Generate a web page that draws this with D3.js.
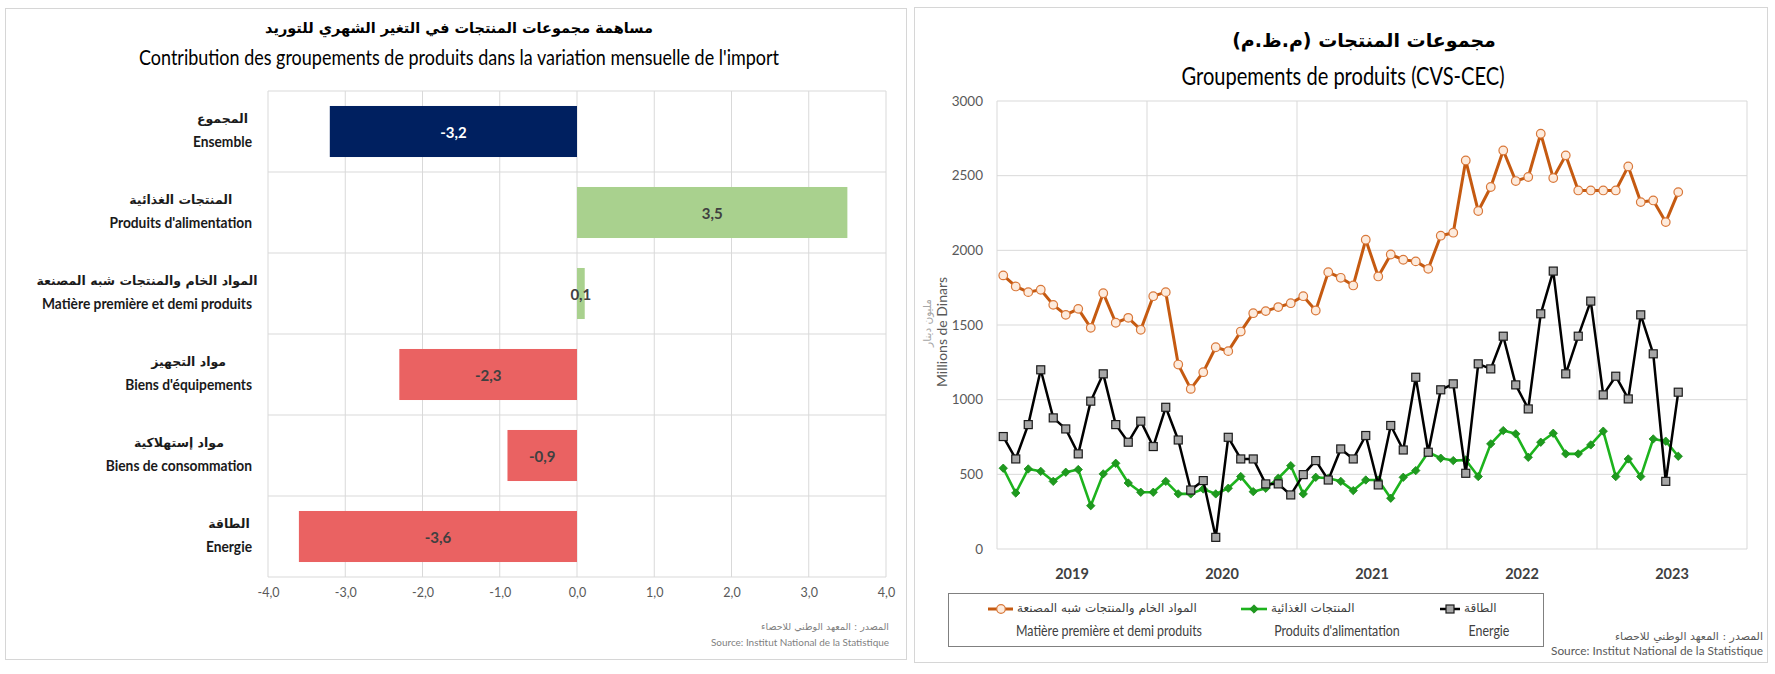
<!DOCTYPE html>
<html><head><meta charset="utf-8">
<script src="https://cdn.jsdelivr.net/npm/d3@7"></script>
<style>
body{margin:0;background:#fff;}
svg{display:block;}
text{font-family:Lato,"Liberation Sans",sans-serif;}
.ar{font-family:"DejaVu Sans","DejaVu Sans Condensed",sans-serif;}
</style></head><body>
<svg id="c" width="1775" height="674"></svg>
<script>
// ---------- Left chart data ----------
const barCatsAr = ["المجموع","المنتجات الغذائية","المواد الخام والمنتجات شبه المصنعة","مواد التجهيز","مواد إستهلاكية","الطاقة"];
const barCatsFr = ["Ensemble","Produits d'alimentation","Matière première et demi produits","Biens d'équipements","Biens de consommation","Energie"];
const barValues = [-3.2, 3.5, 0.1, -2.3, -0.9, -3.6];
const barTicks = [-4,-3,-2,-1,0,1,2,3,4];

// ---------- Right chart data ----------
const months = ["2019-01","2019-02","2019-03","2019-04","2019-05","2019-06","2019-07","2019-08","2019-09","2019-10","2019-11","2019-12",
"2020-01","2020-02","2020-03","2020-04","2020-05","2020-06","2020-07","2020-08","2020-09","2020-10","2020-11","2020-12",
"2021-01","2021-02","2021-03","2021-04","2021-05","2021-06","2021-07","2021-08","2021-09","2021-10","2021-11","2021-12",
"2022-01","2022-02","2022-03","2022-04","2022-05","2022-06","2022-07","2022-08","2022-09","2022-10","2022-11","2022-12",
"2023-01","2023-02","2023-03","2023-04","2023-05","2023-06","2023-07"];
const axisMonthsExtra = ["2023-08","2023-09","2023-10","2023-11","2023-12"];
const matiere = [1832,1758,1720,1736,1635,1568,1608,1481,1713,1515,1548,1468,
1693,1720,1235,1072,1184,1351,1325,1456,1579,1593,1620,1646,
1693,1597,1854,1816,1765,2071,1825,1972,1937,1926,1876,2098,
2118,2602,2263,2424,2669,2464,2491,2781,2484,2636,2401,2401,
2401,2401,2562,2323,2334,2189,2390];
const alimentation = [541,375,536,520,453,514,532,290,503,574,442,380,
380,453,369,369,402,369,407,485,384,407,474,558,
369,480,474,453,391,462,462,340,480,525,648,608,
592,596,485,704,793,771,614,715,775,637,637,697,
789,485,603,485,737,722,621];
const energie = [753,603,833,1200,878,804,637,990,1173,833,715,856,
686,949,730,395,458,78,748,603,603,436,436,362,
498,592,462,670,603,760,429,827,663,1150,648,1066,
1106,507,1240,1206,1425,1099,938,1575,1861,1173,1425,1660,
1032,1157,1005,1568,1307,453,1050];
const years = ["2019","2020","2021","2022","2023"];
const yTicks = [0,500,1000,1500,2000,2500,3000];
const legendAr = ["المواد الخام والمنتجات شبه المصنعة","المنتجات الغذائية","الطاقة"];
const legendFr = ["Matière première et demi produits","Produits d'alimentation","Energie"];

const svg = d3.select("#c");
const GRID = "#d9d9d9";
const TXT = "#404040";
const fit = (sel,w)=>sel.attr("textLength",w).attr("lengthAdjust","spacingAndGlyphs");

// panel borders
svg.append("rect").attr("x",5.5).attr("y",8.5).attr("width",901).attr("height",651)
  .attr("fill","none").attr("stroke","#d6d6d6");
svg.append("rect").attr("x",914.5).attr("y",7.5).attr("width",853).attr("height",655)
  .attr("fill","none").attr("stroke","#d6d6d6");

// ================= LEFT BAR CHART =================
const L = {left:268, right:886, top:91, bottom:577};
const x = d3.scaleLinear().domain([-4,4]).range([L.left,L.right]);
const yb = d3.scaleBand().domain(barCatsFr).range([L.top,L.bottom]).paddingInner(0.37).paddingOuter(0.185);
const bandStep = (L.bottom-L.top)/barCatsFr.length;
const gL = svg.append("g");

gL.selectAll("line.v").data(barTicks).join("line")
  .attr("x1",d=>x(d)).attr("x2",d=>x(d)).attr("y1",L.top).attr("y2",L.bottom)
  .attr("stroke",GRID).attr("stroke-width",1);
gL.selectAll("line.h").data(d3.range(barCatsFr.length+1)).join("line")
  .attr("x1",L.left).attr("x2",L.right)
  .attr("y1",i=>L.top+i*bandStep).attr("y2",i=>L.top+i*bandStep)
  .attr("stroke",GRID).attr("stroke-width",1);

const loc = d3.formatLocale({decimal:",",thousands:" ",grouping:[3],currency:["",""],minus:"-"});
const f1 = loc.format(".1f");

const barColor = (d,i) => i===0 ? "#002060" : (d>=0 ? "#A9D18E" : "#EA6262");
gL.selectAll("rect.bar").data(barValues).join("rect")
  .attr("x",d=>x(Math.min(0,d))).attr("width",d=>Math.abs(x(d)-x(0)))
  .attr("y",(d,i)=>yb(barCatsFr[i])).attr("height",yb.bandwidth())
  .attr("fill",barColor);
gL.selectAll("text.val").data(barValues).join("text")
  .attr("x",d=>(x(d)+x(0))/2).attr("y",(d,i)=>yb(barCatsFr[i])+yb.bandwidth()/2)
  .attr("text-anchor","middle").attr("dominant-baseline","central")
  .attr("font-size",15).attr("font-weight","bold")
  .attr("fill",(d,i)=>i===0?"#ffffff":TXT)
  .text(d=>f1(d));

const axB = d3.axisBottom(x).tickValues(barTicks).tickSize(0).tickPadding(0).tickFormat(f1);
const gax = gL.append("g").attr("transform",`translate(0,${L.bottom+11})`).call(axB);
gax.select(".domain").remove();
gax.selectAll("text").attr("font-size",12.5).attr("fill","#595959").attr("font-family","Lato,sans-serif");

// category labels
const frLabels = barCatsFr.map((c,i)=>{
  const cy = L.top + (i+0.5)*bandStep;
  return gL.append("text").attr("x",252).attr("y",cy+9).attr("text-anchor","end")
    .attr("dominant-baseline","central").attr("font-size",16).attr("font-weight","bold")
    .attr("fill","#1a1a1a").text(c);
});
const catFactor = 210 / d3.max(frLabels, s=>s.node().getComputedTextLength());
frLabels.forEach((s,i)=>{
  const w = s.node().getComputedTextLength()*catFactor;
  fit(s,w);
  const cy = L.top + (i+0.5)*bandStep;
  gL.append("text").attr("class","ar").attr("x",252-w/2).attr("y",cy-13).attr("text-anchor","middle")
    .attr("dominant-baseline","central").attr("font-size",12.5).attr("font-weight","bold")
    .attr("fill","#1a1a1a").text(barCatsAr[i]);
});

// titles
svg.append("text").attr("class","ar").attr("x",459).attr("y",28).attr("text-anchor","middle").attr("dominant-baseline","central")
  .attr("font-size",14.5).attr("font-weight","bold").attr("fill","#000")
  .text("مساهمة مجموعات المنتجات في التغير الشهري للتوريد");
fit(svg.append("text").attr("x",459).attr("y",56).attr("text-anchor","middle").attr("dominant-baseline","central")
  .attr("font-size",22).attr("fill","#000")
  .text("Contribution des groupements de produits dans la variation mensuelle de l'import"),640);

// source left
svg.append("text").attr("class","ar").attr("x",889).attr("y",626).attr("text-anchor","end").attr("dominant-baseline","central")
  .attr("font-size",9.5).attr("fill","#7f7f7f").text("المصدر : المعهد الوطني للاحصاء");
fit(svg.append("text").attr("x",889).attr("y",642).attr("text-anchor","end").attr("dominant-baseline","central")
  .attr("font-size",10).attr("fill","#7f7f7f").text("Source: Institut National de la Statistique"),178);

// ================= RIGHT LINE CHART =================
const R = {left:997, right:1747, top:101, bottom:549};
const axisMonths = months.concat(axisMonthsExtra);
const xb = d3.scaleBand().domain(axisMonths).range([R.left,R.right]).padding(0);
const xc = m => xb(m)+xb.bandwidth()/2;
const y = d3.scaleLinear().domain([0,3000]).range([R.bottom,R.top]);
const gR = svg.append("g");

gR.selectAll("line.hg").data(yTicks).join("line")
  .attr("x1",R.left).attr("x2",R.right).attr("y1",d=>y(d)).attr("y2",d=>y(d))
  .attr("stroke",GRID).attr("stroke-width",1);
const yearEdges = years.map(yr=>xb(yr+"-01")).concat([R.right]);
gR.selectAll("line.vg").data(yearEdges).join("line")
  .attr("x1",d=>d).attr("x2",d=>d).attr("y1",R.top).attr("y2",R.bottom)
  .attr("stroke",GRID).attr("stroke-width",1);

const axL = d3.axisLeft(y).tickValues(yTicks).tickSize(0).tickPadding(14).tickFormat(d3.format("d"));
const gay = gR.append("g").attr("transform",`translate(${R.left},0)`).call(axL);
gay.select(".domain").remove();
gay.selectAll("text").attr("font-size",13.5).attr("fill","#595959").attr("font-family","Lato,sans-serif");

gR.selectAll("text.yr").data(years).join("text")
  .attr("x",yr=>xb(yr+"-01")+xb.bandwidth()*6).attr("y",573)
  .attr("text-anchor","middle").attr("dominant-baseline","central")
  .attr("font-size",14.5).attr("font-weight","bold").attr("fill",TXT).text(d=>d);

// axis title
svg.append("text").attr("transform","translate(941,332) rotate(-90)").attr("text-anchor","middle")
  .attr("dominant-baseline","central").attr("font-size",14).attr("fill","#595959").text("Millions de Dinars");
svg.append("text").attr("class","ar").attr("transform","translate(927,323) rotate(-90)").attr("text-anchor","middle")
  .attr("dominant-baseline","central").attr("font-size",10.5).attr("fill","#a6a6a6").text("مليون دينار");

// series
const ORANGE="#C55A11", GREEN="#1DB31D", GREEN_D="#178A17";
function drawSeries(vals, color, width){
  const line = d3.line().x((d,i)=>xc(months[i])).y(d=>y(d));
  gR.append("path").datum(vals).attr("d",line).attr("fill","none")
    .attr("stroke",color).attr("stroke-width",width).attr("stroke-linejoin","round");
}
drawSeries(matiere, ORANGE, 3);
gR.selectAll("circle.m").data(matiere).join("circle")
  .attr("cx",(d,i)=>xc(months[i])).attr("cy",d=>y(d)).attr("r",4.3)
  .attr("fill","#FDEBDD").attr("stroke","#D9783A").attr("stroke-width",1.2);

drawSeries(alimentation, GREEN, 2.6);
const diamond = (cx,cy,s)=>`M${cx},${cy-s}L${cx+s},${cy}L${cx},${cy+s}L${cx-s},${cy}Z`;
gR.selectAll("path.a").data(alimentation).join("path")
  .attr("d",(d,i)=>diamond(xc(months[i]),y(d),4.2))
  .attr("fill","#1E9A1E").attr("stroke",GREEN_D).attr("stroke-width",0.8);

drawSeries(energie, "#000000", 2.5);
gR.selectAll("rect.e").data(energie).join("rect")
  .attr("x",(d,i)=>xc(months[i])-4).attr("y",d=>y(d)-4).attr("width",8).attr("height",8)
  .attr("fill","#A6A6A6").attr("stroke","#1a1a1a").attr("stroke-width",1.2);

// titles right
svg.append("text").attr("class","ar").attr("x",1364).attr("y",40).attr("text-anchor","middle").attr("dominant-baseline","central")
  .attr("font-size",19).attr("font-weight","bold").attr("fill","#000").text("مجموعات المنتجات (م.ظ.م)");
fit(svg.append("text").attr("x",1343).attr("y",75).attr("text-anchor","middle").attr("dominant-baseline","central")
  .attr("font-size",25).attr("fill","#000").text("Groupements de produits (CVS-CEC)"),323);

// legend
const lg = svg.append("g");
lg.append("rect").attr("x",948.5).attr("y",593.5).attr("width",595).attr("height",53)
  .attr("fill","#fff").attr("stroke","#808080").attr("stroke-width",1);
lg.append("line").attr("x1",988).attr("x2",1013).attr("y1",609).attr("y2",609).attr("stroke",ORANGE).attr("stroke-width",3);
lg.append("circle").attr("cx",1001).attr("cy",609).attr("r",4.3).attr("fill","#FDEBDD").attr("stroke","#D9783A").attr("stroke-width",1.2);
lg.append("line").attr("x1",1241).attr("x2",1267).attr("y1",609).attr("y2",609).attr("stroke",GREEN).attr("stroke-width",2.6);
lg.append("path").attr("d",diamond(1254,609,4.2)).attr("fill","#1E9A1E").attr("stroke",GREEN_D).attr("stroke-width",0.8);
lg.append("line").attr("x1",1440).attr("x2",1460).attr("y1",609).attr("y2",609).attr("stroke","#000").attr("stroke-width",2.5);
lg.append("rect").attr("x",1446).attr("y",605).attr("width",8).attr("height",8).attr("fill","#A6A6A6").attr("stroke","#1a1a1a").attr("stroke-width",1.2);

const legArLeft = [1017,1271,1464];
const legFrX = [1109,1337,1489];
legendAr.forEach((t,i)=>{
  const s = lg.append("text").attr("class","ar").attr("y",608).attr("text-anchor","middle")
    .attr("dominant-baseline","central").attr("font-size",12).attr("fill",TXT).text(t);
  const w = s.node().getComputedTextLength();
  s.attr("x",legArLeft[i]+w/2);
});
const lfr = legendFr.map((t,i)=>lg.append("text").attr("x",legFrX[i]).attr("y",630).attr("text-anchor","middle")
  .attr("dominant-baseline","central").attr("font-size",14.5).attr("fill",TXT).text(t));
const legFactor = 186 / lfr[0].node().getComputedTextLength();
lfr.forEach(s=>fit(s, s.node().getComputedTextLength()*legFactor));

// source right
svg.append("text").attr("class","ar").attr("x",1763).attr("y",636).attr("text-anchor","end").attr("dominant-baseline","central")
  .attr("font-size",11).attr("fill","#595959").text("المصدر : المعهد الوطني للاحصاء");
fit(svg.append("text").attr("x",1763).attr("y",650).attr("text-anchor","end").attr("dominant-baseline","central")
  .attr("font-size",12).attr("fill","#595959").text("Source: Institut National de la Statistique"),212);
</script>
</body></html>
